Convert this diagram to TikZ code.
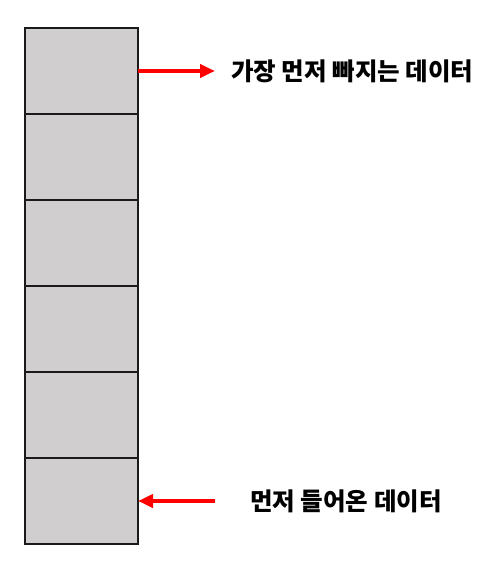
\documentclass[tikz,border=0pt]{standalone}
\usepackage{fontspec}
\newfontfamily\kr{Noto Sans CJK KR}
\usetikzlibrary{arrows.meta}
\definecolor{cellgray}{RGB}{208,206,206}
\definecolor{cellline}{RGB}{26,26,26}
\tikzset{
  cellbox/.style={draw=cellline, line width=2pt, fill=cellgray, minimum width=113pt, minimum height=86pt, inner sep=0pt, outer sep=0pt},
  lbl/.style={font=\kr\bfseries\fontsize{24.5}{28}\selectfont, inner sep=0pt, anchor=west, text=black},
  redarrow/.style={draw=red, line width=4pt, -{Triangle[length=15pt,width=13pt]}}
}
\begin{document}
\begin{tikzpicture}[x=1pt,y=-1pt]
\useasboundingbox (0,0) rectangle (496,572);
\node[cellbox] (c1) at (81.5,71) {};
\node[cellbox] (c2) at (81.5,157) {};
\node[cellbox] (c3) at (81.5,243) {};
\node[cellbox] (c4) at (81.5,329) {};
\node[cellbox] (c5) at (81.5,415) {};
\node[cellbox] (c6) at (81.5,501) {};
\node[lbl] (t1) at (231,71) {가장 먼저 빠지는 데이터};
\node[lbl] (t2) at (250,501) {먼저 들어온 데이터};
\coordinate (a1) at (215,71);
\coordinate (a2) at (215,501);
\draw[redarrow] (c1.east) -- (a1);
\draw[redarrow] (a2) -- (c6.east);
\end{tikzpicture}
\end{document}
